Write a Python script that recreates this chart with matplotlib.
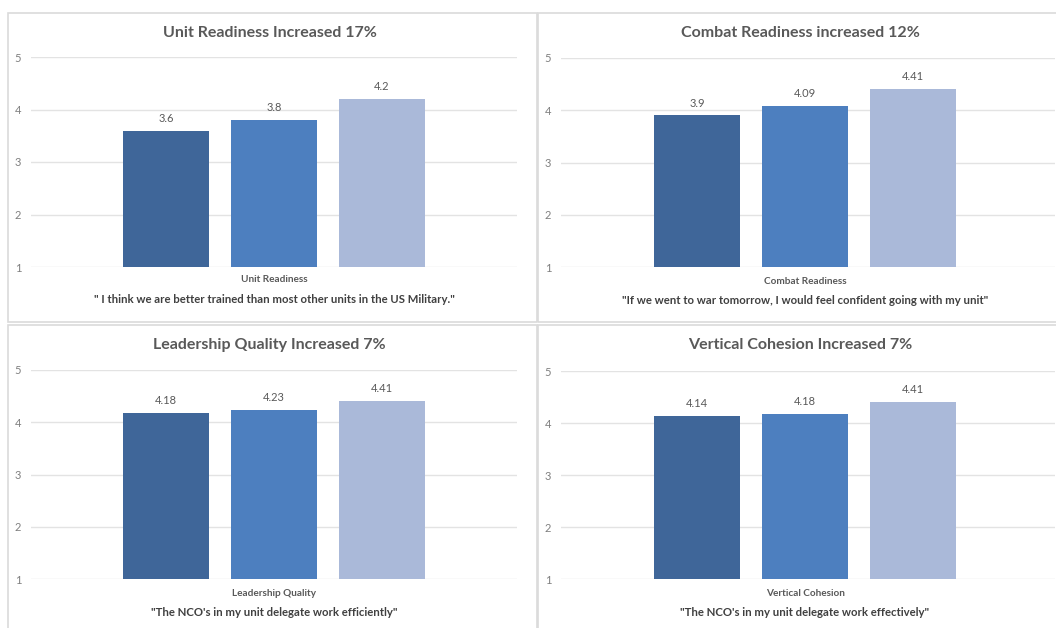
import matplotlib
matplotlib.use("Agg")
import matplotlib.pyplot as plt
from matplotlib.patches import Rectangle

# Survey results (mean score on a 1-5 scale) for three measurement waves
titles = [
    "Unit Readiness Increased 17%",
    "Combat Readiness increased 12%",
    "Leadership Quality Increased 7%",
    "Vertical Cohesion Increased 7%",
]
categories = ["Unit Readiness", "Combat Readiness", "Leadership Quality", "Vertical Cohesion"]
questions = [
    "\" I think we are better trained than most other units in the US Military.\"",
    "\"If we went to war tomorrow, I would feel confident going with my unit\"",
    "\"The NCO's in my unit delegate work efficiently\"",
    "\"The NCO's in my unit delegate work effectively\"",
]
unit_readiness = [3.6, 3.8, 4.2]
combat_readiness = [3.9, 4.09, 4.41]
leadership_quality = [4.18, 4.23, 4.41]
vertical_cohesion = [4.14, 4.18, 4.41]
series = [unit_readiness, combat_readiness, leadership_quality, vertical_cohesion]
value_labels = [
    ["3.6", "3.8", "4.2"],
    ["3.9", "4.09", "4.41"],
    ["4.18", "4.23", "4.41"],
    ["4.14", "4.18", "4.41"],
]
y_ticks = [1, 2, 3, 4, 5]

bar_colors = ["#3F6699", "#4D7FBF", "#AAB9D9"]
FONT = "Lato"
W, H = 1056, 628

fig = plt.figure(figsize=(W / 100, H / 100), dpi=100)
fig.patch.set_facecolor("white")

def fx(px):
    return px / W

def fy(py):
    return 1 - py / H

# panel frames (pixel boxes: left, top, right, bottom)
panels = [(8, 13, 537, 322), (538, 13, 1062, 322), (8, 325, 537, 640), (538, 325, 1062, 640)]
for l, t, r, b in panels:
    fig.patches.append(Rectangle((fx(l), fy(b)), fx(r - l), fy(t) - fy(b),
                                 transform=fig.transFigure, fill=False,
                                 edgecolor="#DADADA", linewidth=1.2, zorder=0))

# axes boxes in pixels: left, top(y=5), right, bottom(y=1), bar-group centre
axes_boxes = [
    (31, 57, 517, 267, 274),
    (561, 58, 1055, 267, 805),
    (31, 370, 517, 579, 274),
    (561, 371, 1055, 579, 805),
]
title_y = [33, 33, 345, 345]
cat_y = [280, 281, 593, 593]
quote_y = [299, 300, 612, 612]
title_x = [270, 800, 269, 800]

step = 108.0  # pixel distance between bar centres
for i, (l, t, r, b, c) in enumerate(axes_boxes):
    ax = fig.add_axes([fx(l), fy(b), fx(r - l), fy(t) - fy(b)])
    ax.set_xlim((l - c) / step, (r - c) / step)
    ax.set_ylim(1, 5)
    xs = [-1, 0, 1]
    ax.bar(xs, [v - 1 for v in series[i]], bottom=1, width=0.79,
           color=bar_colors, zorder=3)
    for x, v, lab in zip(xs, series[i], value_labels[i]):
        ax.annotate(lab, (x, v), xytext=(0, 5), textcoords="offset points",
                    ha="center", va="bottom", fontsize=8, color="#595959",
                    family=FONT)
    ax.set_yticks(y_ticks)
    ax.set_yticklabels([str(v) for v in y_ticks], fontsize=8, color="#7F7F7F", family=FONT)
    ax.tick_params(axis="y", length=0, pad=7)
    ax.set_xticks([])
    ax.grid(axis="y", color="#E3E3E3", linewidth=1.0, zorder=0)
    for s in ax.spines.values():
        s.set_visible(False)
    ax.patch.set_alpha(0)

    fig.text(fx(title_x[i]), fy(title_y[i]), titles[i], ha="center", va="center",
             fontsize=11.5, fontweight="bold", color="#595959", family=FONT)
    fig.text(fx(c), fy(cat_y[i]), categories[i], ha="center", va="center",
             fontsize=7.2, fontweight="bold", color="#595959", family=FONT)
    fig.text(fx(c), fy(quote_y[i]), questions[i], ha="center", va="center",
             fontsize=8.2, fontweight="bold", color="#404040", family=FONT)

fig.savefig("out.png", dpi=100, facecolor="white")
